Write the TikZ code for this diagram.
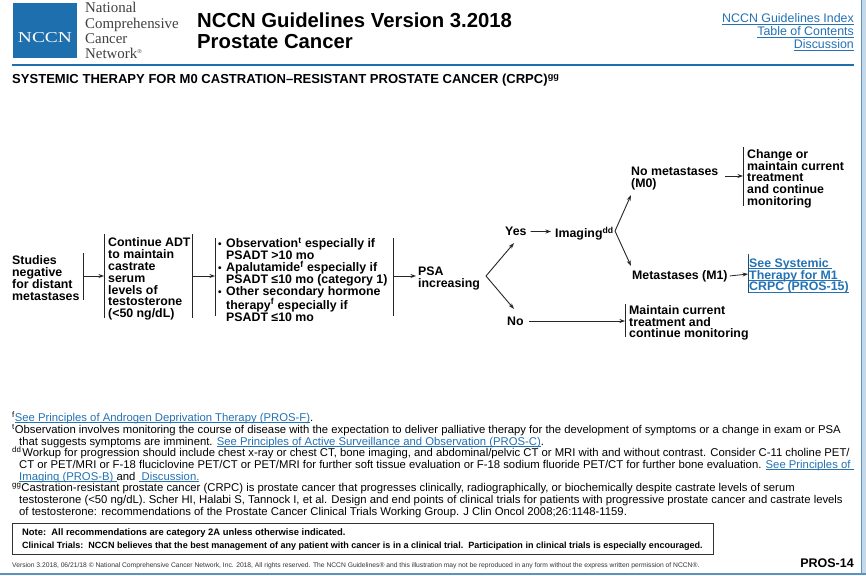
\documentclass[tikz,border=0pt]{standalone}
\usepackage{fontspec}
\setmainfont{Liberation Sans}
\newfontfamily\serifface{Liberation Serif}
\usetikzlibrary{arrows.meta}
\definecolor{nccnblue}{HTML}{1D6FAE}
\definecolor{linkblue}{HTML}{2472B4}
\definecolor{edgeblue}{HTML}{5B93C0}
\newcommand{\lnk}[1]{\textcolor{linkblue}{\setbox0=\hbox{#1}\rlap{\rule[-1.4pt]{\wd0}{0.6pt}}\box0}}
\newcommand{\sups}[1]{\textsuperscript{#1}}
\newcommand{\bul}{\makebox[8pt][l]{\fontsize{10}{10}\selectfont•}}
\tikzset{
 flowtext/.style={anchor=north west,inner sep=0pt,align=left,font=\fontsize{12.35}{11.85}\selectfont\bfseries},
 foot/.style={anchor=base west,inner sep=0pt,font=\fontsize{11.3}{11.7}\selectfont},
 bar/.style={line width=0.9pt,black!85},
 arr/.style={line width=0.8pt,black!85,-{Stealth[length=5.5pt,width=4pt]}},
 forkarr/.style={line width=0.9pt,black!85,-{Stealth[length=6pt,width=4pt]}},
 linkr/.style={anchor=base east,inner sep=0pt,text=linkblue,font=\fontsize{12.4}{12}\selectfont},
 logot/.style={anchor=base west,inner sep=0pt,font=\serifface\fontsize{14.9}{15}\selectfont,text=black!75},
 titlet/.style={anchor=base west,inner sep=0pt,font=\fontsize{20.3}{20}\selectfont\bfseries},
}
\begin{document}
\begin{tikzpicture}[x=1pt,y=-1pt]
\useasboundingbox (0,0) rectangle (866,575);
\fill[white] (0,0) rectangle (866,575);
% page edge
\fill[edgeblue!35] (861,0) rectangle (866,575);
\draw[edgeblue,line width=0.8pt] (861,0) -- (861,573);
\fill[edgeblue] (0,572.5) rectangle (866,575);
% header
\fill[nccnblue] (12.5,2.7) rectangle (76.7,58.5);
\node[inner sep=0pt,text=white,font=\serifface] (logo) at (45,38) {\resizebox{54pt}{10pt}{NCCN}};
\node[logot] (l1) at (85,13) {National};
\node[logot] (l2) at (85,29) {Comprehensive};
\node[logot] (l3) at (85,44) {Cancer};
\node[logot] (l4) at (85,59) {Network\textsuperscript{\fontsize{6}{6}\selectfont ®}};
\node[titlet] (title1) at (197,27.5) {NCCN Guidelines Version 3.2018};
\node[titlet] (title2) at (197,48.5) {Prostate Cancer};
\node[linkr] (idx) at (854,23) {\lnk{NCCN Guidelines Index}};
\node[linkr] (toc) at (854,36) {\lnk{Table of Contents}};
\node[linkr] (dis) at (854,49) {\lnk{Discussion}};
\fill[nccnblue] (12,64.2) rectangle (854,66);
\node[anchor=base west,inner sep=0pt,font=\fontsize{13.05}{13}\selectfont\bfseries] (head) at (12,84) {SYSTEMIC THERAPY FOR M0 CASTRATION–RESISTANT PROSTATE CANCER (CRPC)\sups{gg}};
% flow
\node[flowtext] (studies) at (12,255.5) {Studies\\negative\\for distant\\metastases};
\coordinate (b1t) at (83,253); \coordinate (b1b) at (83,300);
\draw[bar] (b1t) -- (b1b);
\node[flowtext] (adt) at (108,237.5) {Continue ADT\\to maintain\\castrate\\serum\\levels of\\testosterone\\(<50 ng/dL)};
\coordinate (b2t) at (104,234); \coordinate (b2b) at (104,318);
\coordinate (b3t) at (192,234); \coordinate (b3b) at (192,318);
\draw[bar] (b2t) -- (b2b);
\draw[bar] (b3t) -- (b3b);
\node[flowtext] (opts) at (218,237.5) {\bul Observation\sups{t} especially if\\\hspace*{8pt}PSADT >10 mo\\\bul Apalutamide\sups{f} especially if\\\hspace*{8pt}PSADT ≤10 mo (category 1)\\\bul Other secondary hormone\\\hspace*{8pt}therapy\sups{f} especially if\\\hspace*{8pt}PSADT ≤10 mo};
\coordinate (b4t) at (215,238); \coordinate (b4b) at (215,316);
\coordinate (b5t) at (393,238); \coordinate (b5b) at (393,316);
\draw[bar] (b4t) -- (b4b);
\draw[bar] (b5t) -- (b5b);
\node[flowtext] (psa) at (418,267) {PSA\\increasing};
\coordinate (a1) at (83,276); \coordinate (a2) at (104,276);
\coordinate (a3) at (192,276); \coordinate (a4) at (215,276);
\coordinate (a5) at (393,276); \coordinate (a6) at (416,276);
\draw[arr] (a1) -- (a2);
\draw[arr] (a3) -- (a4);
\draw[arr] (a5) -- (a6);
\coordinate (fork1) at (486,276);
\coordinate (yestip) at (514,243); \coordinate (notip) at (514,309);
\draw[forkarr] (fork1) -- (yestip);
\draw[forkarr] (fork1) -- (notip);
\node[flowtext] (yes) at (505,227) {Yes};
\node[flowtext] (no) at (507,317) {No};
\node[flowtext] (img) at (555,227) {Imaging\sups{dd}};
\draw[arr] (yes.east) ++(4,0) -- (551,231.5);
\coordinate (fork2) at (615,231);
\coordinate (m0tip) at (631,195); \coordinate (m1tip) at (631,266);
\draw[forkarr] (fork2) -- (m0tip);
\draw[forkarr] (fork2) -- (m1tip);
\node[flowtext] (m0) at (631,167) {No metastases\\(M0)};
\node[flowtext] (m1) at (632,270) {Metastases (M1)};
\coordinate (c1) at (725,176); \coordinate (c2) at (743,176);
\draw[arr] (c1) -- (c2);
\draw[bar] (743,147) -- (743,206);
\node[flowtext] (chg) at (747,149) {Change or\\maintain current\\treatment\\and continue\\monitoring};
\coordinate (d2) at (748,274);
\draw[arr] (m1.east) ++(2,0) -- (d2);
\draw[bar,nccnblue!70!black] (748,254) -- (748,293);
\node[flowtext,text=linkblue] (sys) at (749,258) {\lnk{See Systemic\ }\\\lnk{Therapy for M1\ }\\\lnk{CRPC (PROS-15)}};
\coordinate (e1) at (529,321); \coordinate (e2) at (625,321);
\draw[arr] (e1) -- (e2);
\draw[bar] (625,304) -- (625,337);
\node[flowtext] (mnt) at (629,305) {Maintain current\\treatment and\\continue monitoring};
% footnotes
\node[foot] (f1) at (12,421) {\sups{f}\lnk{See Principles of Androgen Deprivation Therapy (PROS-F)}.};
\node[foot] (f2) at (12,433) {\sups{t}Observation involves monitoring the course of disease with the expectation to deliver palliative therapy for the development of symptoms or a change in exam or PSA};
\node[foot] (f3) at (19,445) {that suggests symptoms are imminent. \lnk{See Principles of Active Surveillance and Observation (PROS-C)}.};
\node[foot] (f4) at (12,456) {\sups{dd}\hspace{1pt}Workup for progression should include chest x-ray or chest CT, bone imaging, and abdominal/pelvic CT or MRI with and without contrast. Consider C-11 choline PET/};
\node[foot] (f5) at (19,468) {CT or PET/MRI or F-18 fluciclovine PET/CT or PET/MRI for further soft tissue evaluation or F-18 sodium fluoride PET/CT for further bone evaluation. \lnk{See Principles of\ }};
\node[foot] (f6) at (19,480) {\lnk{Imaging (PROS-B)\ }and \lnk{\ Discussion.}};
\node[foot] (f7) at (12,491) {\sups{gg}Castration-resistant prostate cancer (CRPC) is prostate cancer that progresses clinically, radiographically, or biochemically despite castrate levels of serum};
\node[foot] (f8) at (19,503) {testosterone (<50 ng/dL). Scher HI, Halabi S, Tannock I, et al. Design and end points of clinical trials for patients with progressive prostate cancer and castrate levels};
\node[foot] (f9) at (19,515) {of testosterone: recommendations of the Prostate Cancer Clinical Trials Working Group. J Clin Oncol 2008;26:1148-1159.};
% note
\draw[line width=1pt,black!80] (12,523) rectangle (713,554);
\node[anchor=base west,inner sep=0pt,font=\fontsize{9.4}{9}\selectfont\bfseries] (note1) at (22,535.5) {Note:\ \ All recommendations are category 2A unless otherwise indicated.};
\node[anchor=base west,inner sep=0pt,font=\fontsize{9.03}{9}\selectfont\bfseries] (note2) at (22,548) {Clinical Trials:\ \ NCCN believes that the best management of any patient with cancer is in a clinical trial.\ \ Participation in clinical trials is especially encouraged.};
\node[anchor=base west,inner sep=0pt,font=\fontsize{6.72}{6}\selectfont,text=black!80] (ver) at (12,567.5) {Version 3.2018, 06/21/18 © National Comprehensive Cancer Network, Inc. 2018, All rights reserved. The NCCN Guidelines® and this illustration may not be reproduced in any form without the express written permission of NCCN®.};
\node[anchor=base east,inner sep=0pt,font=\fontsize{12.5}{12}\selectfont\bfseries] (pros) at (854,567.5) {PROS-14};
\end{tikzpicture}
\end{document}
